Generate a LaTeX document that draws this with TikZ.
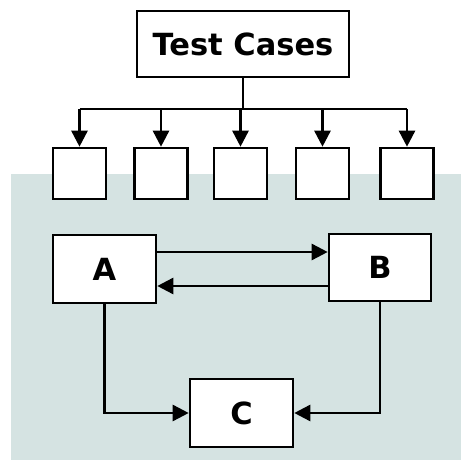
\documentclass[tikz,border=0pt]{standalone}
\usepackage{fontspec}
\setmainfont{DejaVu Sans}
\usetikzlibrary{arrows.meta}
\definecolor{bgc}{HTML}{D5E3E2}
\tikzset{
  box/.style={draw=black, line width=2.6pt, fill=white, inner sep=0pt, font=\bfseries\fontsize{30.5}{34}\selectfont},
  conn/.style={line width=2.6pt, -{Triangle[length=16pt,width=16pt]}},
}
\begin{document}
\begin{tikzpicture}[x=1pt,y=-1pt]
\useasboundingbox (0,0) rectangle (461,460);
\fill[bgc] (11,174) rectangle (461,460);
\node[box, minimum width=212pt, minimum height=66pt] (tc) at (243,44) {Test Cases};
\foreach \i/\x in {1/79.5,2/161,3/240.5,4/322.5,5/407}{
  \node[box, minimum width=53pt, minimum height=51pt] (s\i) at (\x,173.5) {};
}
\node[box, minimum width=103pt, minimum height=68pt] (a) at (104.5,269) {A};
\node[box, minimum width=102pt, minimum height=67pt] (b) at (380,267.5) {B};
\node[box, minimum width=103pt, minimum height=68pt] (c) at (241.5,413) {C};
\coordinate (j) at (243,109);
\draw[line width=2.6pt] (tc.south) -- (j);
\draw[line width=2.6pt] (s1.north |- j) -- (s5.north |- j);
\foreach \i in {1,...,5}{
  \draw[conn] (s\i.north |- j) -- (s\i.north);
}
\draw[conn] (a.east |- 0,252) -- (b.west |- 0,252);
\draw[conn] (b.west |- 0,286) -- (a.east |- 0,286);
\draw[conn] (a.south) |- (c.west);
\draw[conn] (b.south) |- (c.east);
\end{tikzpicture}
\end{document}
